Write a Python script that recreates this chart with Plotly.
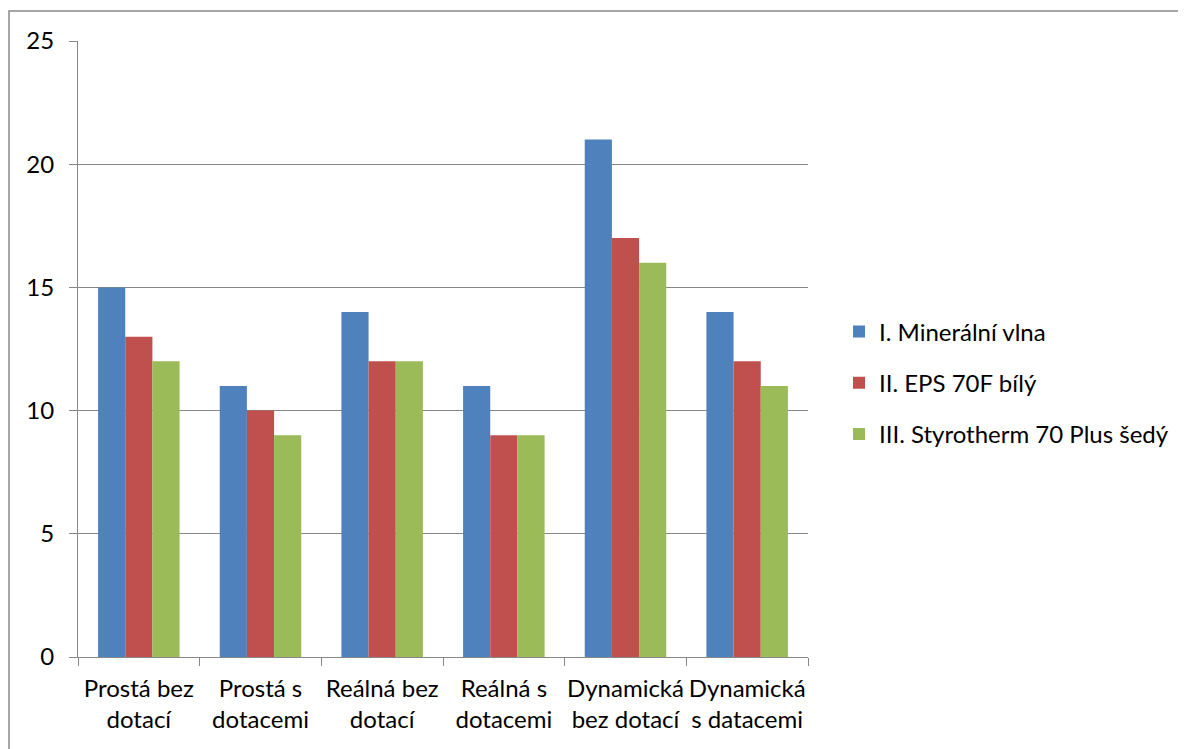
import plotly.graph_objects as go

categories = ["Prostá bez<br>dotací", "Prostá s<br>dotacemi", "Reálná bez<br>dotací",
              "Reálná s<br>dotacemi", "Dynamická<br>bez dotací", "Dynamická<br>s datacemi"]
series_names = ["I. Minerální vlna", "II. EPS 70F bílý", "III. Styrotherm 70 Plus šedý"]
mineralni = [15, 11, 14, 11, 21, 14]
eps = [13, 10, 12, 9, 17, 12]
styrotherm = [12, 9, 12, 9, 16, 11]
colors = ["#4F81BD", "#C0504D", "#9BBB59"]
y_ticks = [0, 5, 10, 15, 20, 25]

# page body has an 8px margin; figure coordinates are screen coordinates minus 8
OFF = 8
W, H = 1186 - 2 * OFF, 749 - OFF
L, T = 78 - OFF, 41 - OFF
R = W - (808 - OFF)
B = H - (657 - OFF)
pw, ph = W - L - R, H - T - B

fig = go.Figure()
for name, vals, c, g in zip(series_names, [mineralni, eps, styrotherm], colors, ["a", "b", "c"]):
    fig.add_trace(go.Bar(x=categories, y=vals, name=name, marker_color=c,
                         marker_line_width=0, legendgroup=g))

grid = "#888888"
fig.update_layout(
    width=W, height=H,
    margin=dict(l=L, r=R, t=T, b=B, autoexpand=False),
    paper_bgcolor="white", plot_bgcolor="white",
    barmode="group", bargap=0.33, bargroupgap=0,
    font=dict(family="Lato, Open Sans, sans-serif", size=24, color="black"),
    legend=dict(x=(839 - OFF - L) / pw, y=(657 - 383) / ph, xanchor="left", yanchor="middle",
                font=dict(size=24), tracegroupgap=17, itemwidth=30, bgcolor="rgba(0,0,0,0)"),
    xaxis=dict(showline=True, linecolor=grid, linewidth=1, ticks="outside", tickson="boundaries",
               ticklen=8, tickcolor=grid, showgrid=False, tickfont=dict(size=24),
               tickangle=0, ticklabelstandoff=10),
    yaxis=dict(range=[0, 25], tickvals=y_ticks, showline=True, linecolor=grid, linewidth=1,
               ticks="outside", ticklen=8, tickcolor=grid, showgrid=True, gridcolor=grid,
               gridwidth=1, zeroline=False, tickfont=dict(size=24), ticklabelstandoff=10),
    shapes=[dict(type="rect", xref="paper", yref="paper",
                 x0=(9 - 78) / pw, x1=(1200 - 78) / pw,
                 y0=(657 - 770) / ph, y1=(657 - 11) / ph,
                 line=dict(color="#898989", width=1.5), fillcolor="rgba(0,0,0,0)", layer="below")],
)
fig.write_html("out.html")
